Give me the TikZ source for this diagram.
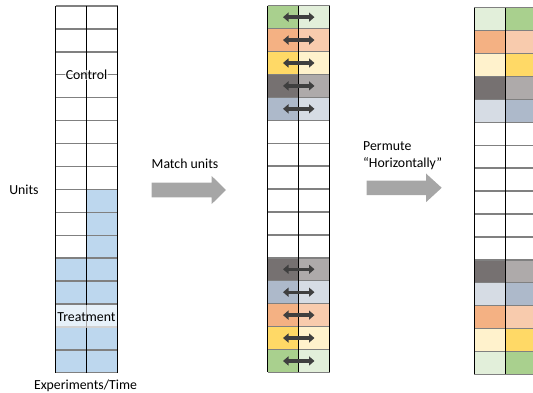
\documentclass[tikz,border=0pt]{standalone}
\usepackage{fontspec}
\setmainfont{Carlito}
\usetikzlibrary{arrows.meta}

% cell colours: dark and light shade of each matched pair
\definecolor{gdark}{HTML}{A9D08E}
\definecolor{glight}{HTML}{E2EFDA}
\definecolor{odark}{HTML}{F4B183}
\definecolor{olight}{HTML}{F8CBAD}
\definecolor{ydark}{HTML}{FFD966}
\definecolor{ylight}{HTML}{FFF2CC}
\definecolor{kdark}{HTML}{767171}
\definecolor{klight}{HTML}{AEAAAA}
\definecolor{bdark}{HTML}{ADB9CA}
\definecolor{blight}{HTML}{D6DCE4}
\definecolor{treat}{HTML}{BDD7EE}
\definecolor{rulegray}{HTML}{808080}
\definecolor{blockgray}{HTML}{A6A6A6}
\definecolor{tipgray}{HTML}{3F3F3F}

% fill one cell: #1 left x, #2 right x, #3 grid top, #4 row index, #5 colour
\newcommand\cellfill[5]{%
  \fill[#5] (#1,{#3+#4*\rowh}) rectangle (#2,{#3+(#4+1)*\rowh});}
% rules of a 2-column, 16-row grid: #1 left x, #2 middle x, #3 right x, #4 top
\newcommand\gridrules[4]{%
  \foreach \i in {0,...,16}{\draw[hrule] (#1,{#4+\i*\rowh}) -- (#3,{#4+\i*\rowh});}
  \foreach \xx in {#1,#2,#3}{\draw[vrule] (\xx,#4) -- (\xx,{#4+16*\rowh});}}
\newcommand\rowh{22.92}

\tikzset{
  hrule/.style={draw=rulegray, line width=1.4pt},
  vrule/.style={draw=black, line width=0.9pt},
  txt/.style={font=\fontsize{13.8}{16.5}\selectfont, inner sep=0pt},
  gridlabel/.style={txt, fill=white, fill opacity=0.65, text opacity=1, inner xsep=1pt},
  swaparrow/.style={draw=tipgray, line width=3.4pt,
    arrows={Triangle[width=9pt,length=5.5pt]-Triangle[width=9pt,length=5.5pt]}},
  blockarrow/.style={fill=blockgray}
}

\begin{document}
\begin{tikzpicture}[x=1pt,y=-1pt]
\useasboundingbox (0,0) rectangle (533,393);

% ---------- left grid: control and treatment ----------
\foreach \r in {8,...,15}{\cellfill{86.5}{117.5}{6}{\r}{treat}}
\foreach \r in {11,...,15}{\cellfill{55.5}{86.5}{6}{\r}{treat}}
\gridrules{55.5}{86.5}{117.5}{6}
\node[gridlabel] (control) at (86.5,74.8) {Control};
\node[gridlabel, minimum width=61pt, minimum height=23pt] (treatment) at (86.5,316.8) {Treatment};

% ---------- middle grid: matched pairs ----------
\foreach \r/\cl/\cr in {0/gdark/glight,1/odark/olight,2/ydark/ylight,3/kdark/klight,4/bdark/blight,
  11/kdark/klight,12/bdark/blight,13/odark/olight,14/ydark/ylight,15/gdark/glight}{
  \cellfill{267.5}{298.5}{5.7}{\r}{\cl}
  \cellfill{298.5}{329.5}{5.7}{\r}{\cr}}
\gridrules{267.5}{298.5}{329.5}{5.7}
\foreach \r in {0,1,2,3,4,11,12,13,14,15}{
  \coordinate (swapL\r) at (283,{5.7+(\r+0.5)*\rowh});
  \coordinate (swapR\r) at (314.5,{5.7+(\r+0.5)*\rowh});
  \draw[swaparrow] (swapL\r) -- (swapR\r);}

% ---------- right grid: pairs permuted within rows ----------
\foreach \r/\cl/\cr in {0/glight/gdark,1/odark/olight,2/ylight/ydark,3/kdark/klight,4/blight/bdark,
  11/kdark/klight,12/blight/bdark,13/odark/olight,14/ylight/ydark,15/glight/gdark}{
  \cellfill{474}{505.5}{7.7}{\r}{\cl}
  \cellfill{505.5}{537}{7.7}{\r}{\cr}}
\gridrules{474}{505.5}{537}{7.7}

% ---------- block arrows ----------
\fill[blockarrow] (151.5,182.7) -- (211.7,182.7) -- (211.7,176) -- (226,190)
  -- (211.7,204) -- (211.7,197.3) -- (151.5,197.3) -- cycle;
\fill[blockarrow] (366.7,180.6) -- (426,180.6) -- (426,173.5) -- (441.7,187.8)
  -- (426,202.2) -- (426,195.2) -- (366.7,195.2) -- cycle;

% ---------- texts ----------
\node[txt] (units) at (24,190) {Units};
\node[txt] (axis) at (85.5,386) {Experiments/Time};
\node[txt, anchor=west] (match) at (151.5,164) {Match units};
\node[txt, anchor=west, align=left] (permute) at (363,155.5) {Permute\\“Horizontally”};
\end{tikzpicture}
\end{document}
